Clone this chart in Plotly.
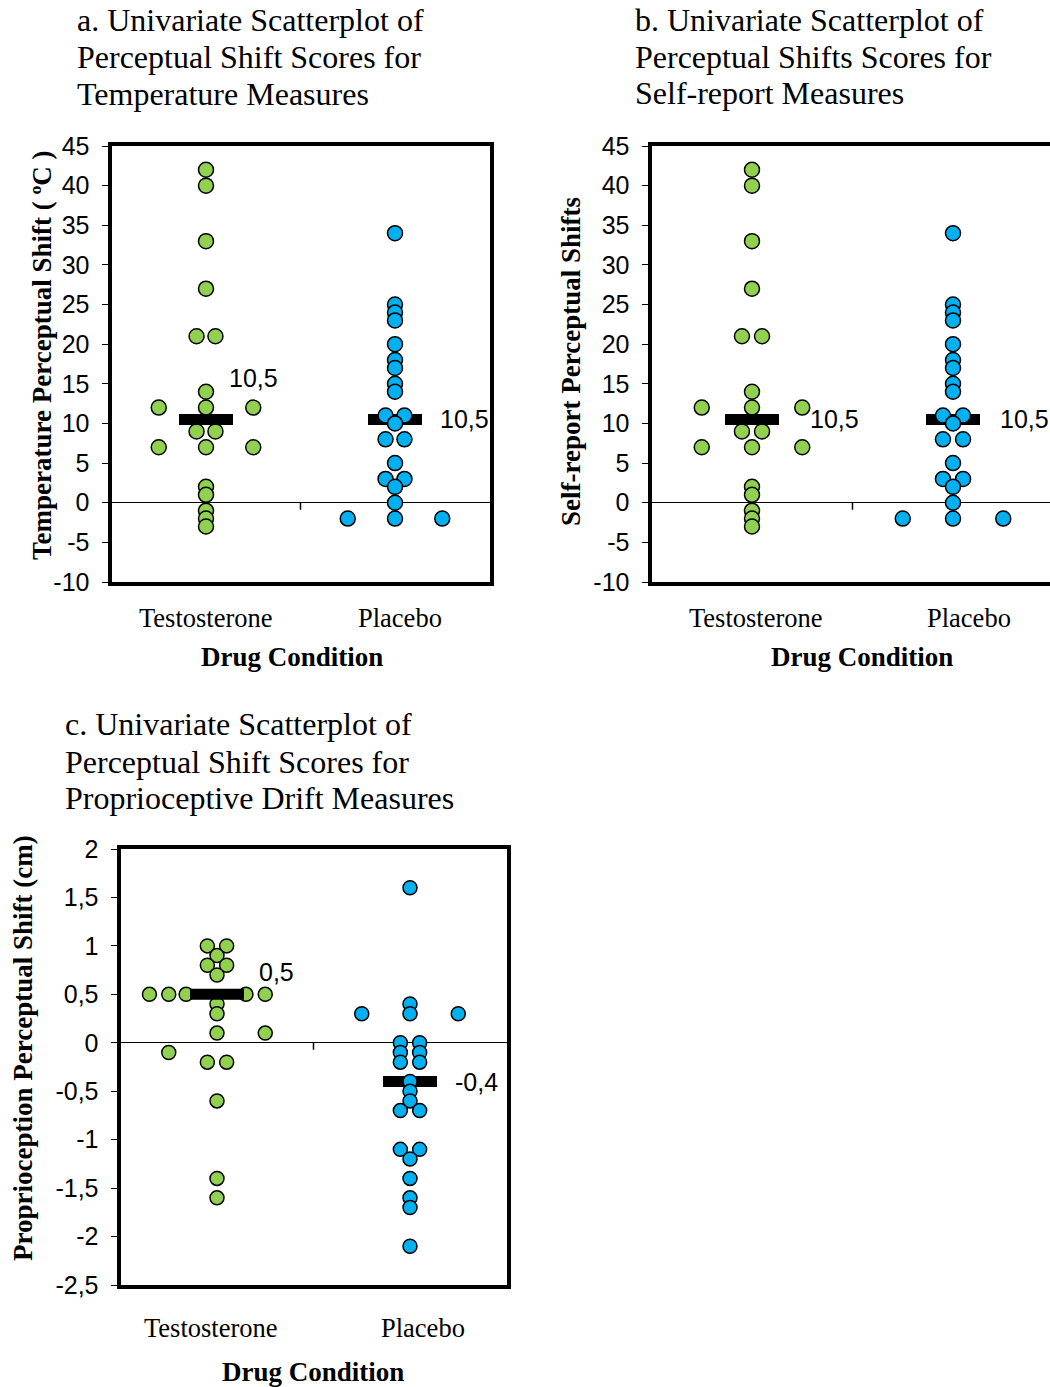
import numpy as np
import plotly.graph_objects as go

W, H = 1050, 1387

# ---- data -------------------------------------------------------------
categories = ["Testosterone", "Placebo"]

temp_testo = [42, 40, 33, 27, 21, 21, 14, 12, 12, 12, 9, 9, 7, 7, 7, 2, 1, -1, -2, -3]
temp_placebo = [34, 25, 24, 23, 20, 18, 17, 15, 14, 11, 11, 10, 8, 8, 5, 3, 3, 2, 0, -2, -2, -2]

self_testo = [42, 40, 33, 27, 21, 21, 14, 12, 12, 12, 9, 9, 7, 7, 7, 2, 1, -1, -2, -3]
self_placebo = [34, 25, 24, 23, 20, 18, 17, 15, 14, 11, 11, 10, 8, 8, 5, 3, 3, 2, 0, -2, -2, -2]

prop_testo = [1.0, 1.0, 0.9, 0.8, 0.8, 0.7, 0.5, 0.5, 0.5, 0.5, 0.5, 0.4, 0.3, 0.1, 0.1,
              -0.1, -0.2, -0.2, -0.6, -1.4, -1.6]
prop_placebo = [1.6, 0.4, 0.3, 0.3, 0.3, 0.0, 0.0, -0.1, -0.1, -0.2, -0.2, -0.4, -0.5, -0.6,
                -0.7, -0.7, -1.1, -1.1, -1.2, -1.4, -1.6, -1.7, -2.1]

temp_ticks = [-10, -5, 0, 5, 10, 15, 20, 25, 30, 35, 40, 45]
temp_ticktext = ["-10", "-5", "0", "5", "10", "15", "20", "25", "30", "35", "40", "45"]
prop_ticks = [-2.5, -2, -1.5, -1, -0.5, 0, 0.5, 1, 1.5, 2]
prop_ticktext = ["-2,5", "-2", "-1,5", "-1", "-0,5", "0", "0,5", "1", "1,5", "2"]

# horizontal spread of tied points within each category column (category units)
temp_testo_spread = [0, 0, 0, 0, -0.05, 0.05, 0, -0.25, 0, 0.25, -0.05, 0.05, -0.25, 0, 0.25,
                     0, 0, 0, 0, 0]
temp_placebo_spread = [0, 0, 0, 0, 0, 0, 0, 0, 0, -0.05, 0.05, 0, -0.05, 0.05, 0, -0.05, 0.05,
                       0, 0, -0.25, 0, 0.25]
prop_testo_spread = [-0.05, 0.05, 0, -0.05, 0.05, 0, -0.35, -0.25, -0.16, 0.15, 0.25, 0, 0, 0,
                     0.25, -0.25, -0.05, 0.05, 0, 0, 0]
prop_placebo_spread = [0, 0, -0.25, 0, 0.25, -0.05, 0.05, -0.05, 0.05, -0.05, 0.05, 0, 0, 0,
                       -0.05, 0.05, -0.05, 0.05, 0, 0, 0, 0, 0]

GREEN = "#92D050"
BLUE = "#00B0F0"
SERIF = "Liberation Serif, Times New Roman, serif"
SANS = "Liberation Sans, Arial, sans-serif"

# ---- panel geometry (pixels) -------------------------------------------
panels = {
    "a": dict(x0=111.5, x1=489.5, y0=146, y1=582, xr=[0.5, 2.5], mirror=True),
    "b": dict(x0=651.5, x1=1050, y0=146, y1=582,
              xr=[0.5, 0.5 + (1050 - 651.5) / 201.0], mirror=False),
    "c": dict(x0=120.5, x1=506.5, y0=849, y1=1285, xr=[0.5, 2.5], mirror=True),
}

fig = go.Figure()
layout_axes = {}
annotations = []
shapes = []

def px_x(p):
    return p / W

def px_y(p):
    return 1 - p / H

def fmt(v):
    return f"{v:g}".replace(".", ",")

specs = [
    ("a", "", temp_testo, temp_placebo, temp_testo_spread, temp_placebo_spread,
     [-10, 45], temp_ticks, temp_ticktext, 15),
    ("b", "2", self_testo, self_placebo, temp_testo_spread, temp_placebo_spread,
     [-10, 45], temp_ticks, temp_ticktext, 15),
    ("c", "3", prop_testo, prop_placebo, prop_testo_spread, prop_placebo_spread,
     [-2.5, 2], prop_ticks, prop_ticktext, 14),
]

# pixel offsets of the median labels from their bars
label_shift = {"a": [(21, 41), (43, 0)], "b": [(56, 0), (45, 0)], "c": [(40, 22), (43, 0)]}

for key, sfx, testo, plac, s_t, s_p, yr, tv, tt, msize in specs:
    P = panels[key]
    xa, ya = "x" + sfx, "y" + sfx
    px_per_unit = (P["x1"] - P["x0"]) / (P["xr"][1] - P["xr"][0])
    half_bar = 27.0 / px_per_unit

    layout_axes["xaxis" + sfx] = dict(
        domain=[px_x(P["x0"]), px_x(P["x1"])], range=P["xr"], anchor=ya,
        showline=True, linewidth=4, linecolor="black", mirror=True,
        showticklabels=False, ticks="", showgrid=False, zeroline=False,
        automargin=False, fixedrange=True)
    layout_axes["yaxis" + sfx] = dict(
        domain=[px_y(P["y1"]), px_y(P["y0"])], range=yr, anchor=xa,
        showline=True, linewidth=4, linecolor="black", mirror=P["mirror"],
        ticks="outside", ticklen=6, tickwidth=1, tickcolor="black",
        tickvals=tv, ticktext=tt, ticklabelstandoff=7,
        tickfont=dict(family=SANS, size=25, color="black"),
        showgrid=False, zeroline=True, zerolinecolor="black", zerolinewidth=1,
        automargin=False, fixedrange=True)

    # testosterone dots
    fig.add_trace(go.Scatter(
        x=[1 + o for o in s_t], y=testo, xaxis=xa, yaxis=ya, mode="markers",
        marker=dict(size=msize, color=GREEN, line=dict(color="black", width=1.5)),
        showlegend=False, cliponaxis=False, hoverinfo="y"))

    # median bars
    med_t = float(np.median(testo))
    med_p = float(np.median(plac))
    for c, m in ((1, med_t), (2, med_p)):
        fig.add_trace(go.Scatter(
            x=[c - half_bar, c + half_bar], y=[m, m], xaxis=xa, yaxis=ya,
            mode="lines", line=dict(color="black", width=11),
            showlegend=False, hoverinfo="y"))

    # placebo dots
    fig.add_trace(go.Scatter(
        x=[2 + o for o in s_p], y=plac, xaxis=xa, yaxis=ya, mode="markers",
        marker=dict(size=msize, color=BLUE, line=dict(color="black", width=1.5)),
        showlegend=False, cliponaxis=False, hoverinfo="y"))

    # small category-separator tick on the zero line
    shapes.append(dict(type="line", xref=xa, yref=ya, x0=1.5, x1=1.5,
                       ysizemode="pixel", yanchor=0, y0=0, y1=-7,
                       line=dict(color="black", width=1.5)))

    # median value labels
    for (c, m), (dx, dy) in zip(((1, med_t), (2, med_p)), label_shift[key]):
        annotations.append(dict(
            xref=xa, yref=ya, x=c, y=m, xshift=dx, yshift=dy, text=fmt(m),
            showarrow=False, xanchor="left", yanchor="middle",
            font=dict(family=SANS, size=25, color="black")))

# ---- titles ---------------------------------------------------------------
title_lines = [
    (75, [20, 57, 94], ["a. Univariate Scatterplot of", "Perceptual Shift Scores for",
                        "Temperature Measures"]),
    (633, [20, 57, 93], ["b. Univariate Scatterplot of", "Perceptual Shifts Scores for",
                         "Self-report Measures"]),
    (63, [724, 762, 798], ["c. Univariate Scatterplot of", "Perceptual Shift Scores for",
                           "Proprioceptive Drift Measures"]),
]
for x, ys, lines in title_lines:
    for y, t in zip(ys, lines):
        annotations.append(dict(xref="paper", yref="paper", x=px_x(x), y=px_y(y),
                                text=t, showarrow=False, xanchor="left", yanchor="middle",
                                font=dict(family=SERIF, size=32, color="black")))

# y-axis titles
for x, y, t in [(42, 355, "Temperature Perceptual Shift ( ºC )"),
                (571, 362, "Self-report Perceptual Shifts"),
                (23, 1048, "Proprioception Perceptual Shift (cm)")]:
    annotations.append(dict(xref="paper", yref="paper", x=px_x(x), y=px_y(y),
                            text="<b>" + t + "</b>", showarrow=False, textangle=-90,
                            xanchor="center", yanchor="middle",
                            font=dict(family=SERIF, size=27, color="black")))

# category labels and x-axis titles
for xs, y_cat, x_title, y_title in [((206, 400), 618, 292, 657),
                                    ((756, 969), 618, 862, 657),
                                    ((211, 423), 1328, 313, 1372)]:
    for cx, name in zip(xs, categories):
        annotations.append(dict(xref="paper", yref="paper", x=px_x(cx), y=px_y(y_cat),
                                text=name, showarrow=False, xanchor="center",
                                yanchor="middle",
                                font=dict(family=SERIF, size=26.5, color="black")))
    annotations.append(dict(xref="paper", yref="paper", x=px_x(x_title), y=px_y(y_title),
                            text="<b>Drug Condition</b>", showarrow=False,
                            xanchor="center", yanchor="middle",
                            font=dict(family=SERIF, size=27, color="black")))

fig.update_layout(
    template="none",
    width=W, height=H,
    margin=dict(l=0, r=0, t=0, b=0, pad=0, autoexpand=False),
    paper_bgcolor="white", plot_bgcolor="white",
    showlegend=False, annotations=annotations, shapes=shapes,
    **layout_axes)

fig.write_html("out.html", config={"displayModeBar": False})
